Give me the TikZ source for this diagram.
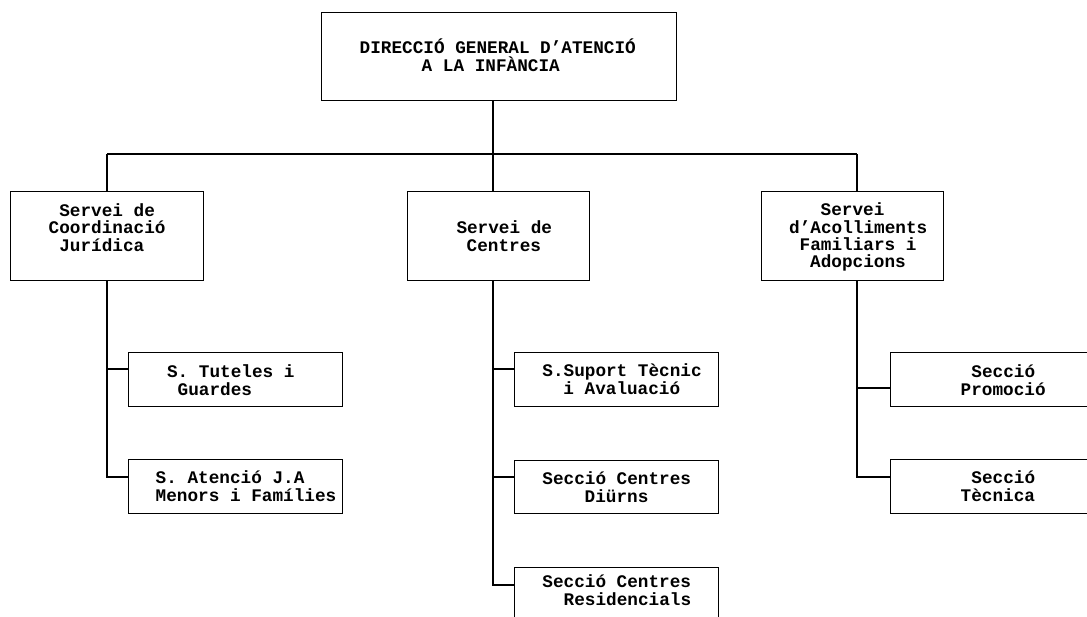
\documentclass[tikz,border=0pt]{standalone}
\usepackage{fontspec}
\newfontfamily\courfont{Liberation Mono}
\newdimen\orgboxw
\newcommand\orgline[2]{\hbox to\orgboxw{\kern#1pt\relax #2\hfil}}
\newcommand\orgtext[2]{\orgboxw=#1pt\relax\vtop{\baselineskip=17.4pt\lineskiplimit=-\maxdimen #2}}
\tikzset{
  orgbox/.style={draw, line width=1.4pt, inner sep=0pt, anchor=north west,
    font={\courfont\bfseries\fontsize{17.7}{17.4}\selectfont}},
  wire/.style={line width=1.8pt}
}
\begin{document}
\begin{tikzpicture}[x=1pt,y=-1pt]
\useasboundingbox (0,0) rectangle (1087,617);
\clip (0,0) rectangle (1087,617);
% top
\node[orgbox, minimum width=355pt, minimum height=88pt, text height=41pt, text depth=47pt] (top) at (321,12)
  {\orgtext{355}{\orgline{38}{DIRECCIÓ GENERAL D’ATENCIÓ}\orgline{100}{A LA INFÀNCIA}}};
% services
\node[orgbox, minimum width=193pt, minimum height=89pt, text height=24.7pt, text depth=64.3pt] (s1) at (10,191)
  {\orgtext{193}{\orgline{48.6}{Servei de}\orgline{38}{Coordinació}\orgline{48.6}{Jurídica}}};
\node[orgbox, minimum width=182pt, minimum height=89pt, text height=42pt, text depth=47pt] (s2) at (407,191)
  {\orgtext{182}{\orgline{48.8}{Servei de}\orgline{59}{Centres}}};
\node[orgbox, minimum width=182pt, minimum height=89pt, text height=24pt, text depth=65pt] (s3) at (761,191)
  {\orgtext{182}{\orgline{59}{Servei}\orgline{27.5}{d’Acolliments}\orgline{38}{Familiars i}\orgline{48.5}{Adopcions}}};
% left column
\node[orgbox, minimum width=214pt, minimum height=54pt, text height=25pt, text depth=29pt] (l1) at (128,352)
  {\orgtext{214}{\orgline{38.4}{S. Tuteles i}\orgline{49}{Guardes}}};
\node[orgbox, minimum width=214pt, minimum height=54pt, text height=24pt, text depth=30pt] (l2) at (128,459)
  {\orgtext{214}{\orgline{27}{S. Atenció J.A}\orgline{27}{Menors i Famílies}}};
% centre column
\node[orgbox, minimum width=204pt, minimum height=54pt, text height=24pt, text depth=30pt] (c1) at (514,352)
  {\orgtext{204}{\orgline{27.7}{S.Suport Tècnic}\orgline{48.7}{i Avaluació}}};
\node[orgbox, minimum width=204pt, minimum height=53pt, text height=24pt, text depth=29pt] (c2) at (514,460)
  {\orgtext{204}{\orgline{27.7}{Secció Centres}\orgline{70}{Diürns}}};
\node[orgbox, minimum width=204pt, minimum height=64pt, text height=20pt, text depth=44pt] (c3) at (514,567)
  {\orgtext{204}{\orgline{27.7}{Secció Centres}\orgline{49}{Residencials}}};
% right column
\node[orgbox, minimum width=230pt, minimum height=54pt, text height=25pt, text depth=29pt] (r1) at (890,352)
  {\orgtext{230}{\orgline{80.7}{Secció}\orgline{70}{Promoció}}};
\node[orgbox, minimum width=230pt, minimum height=54pt, text height=24pt, text depth=30pt] (r2) at (890,459)
  {\orgtext{230}{\orgline{80.7}{Secció}\orgline{70}{Tècnica}}};
% connectors
\coordinate (jc) at (493,154);
\coordinate (jl) at (107,154);
\coordinate (jr) at (857,154);
\draw[wire] (jc |- top.south) -- (jc);
\draw[wire] (jl) -- (jr);
\draw[wire] (jl) -- (jl |- s1.north);
\draw[wire] (jc) -- (jc |- s2.north);
\draw[wire] (jr) -- (jr |- s3.north);
% left trunk
\coordinate (bl1) at (107,369);
\coordinate (bl2) at (107,477);
\draw[wire] (jl |- s1.south) -- (bl2) -- (bl2 -| l2.west);
\draw[wire] (bl1) -- (bl1 -| l1.west);
% centre trunk
\coordinate (bc1) at (493,369);
\coordinate (bc2) at (493,477);
\coordinate (bc3) at (493,585);
\draw[wire] (jc |- s2.south) -- (bc3) -- (bc3 -| c3.west);
\draw[wire] (bc1) -- (bc1 -| c1.west);
\draw[wire] (bc2) -- (bc2 -| c2.west);
% right trunk
\coordinate (br1) at (857,388);
\coordinate (br2) at (857,477);
\draw[wire] (jr |- s3.south) -- (br2) -- (br2 -| r2.west);
\draw[wire] (br1) -- (br1 -| r1.west);
\end{tikzpicture}
\end{document}
